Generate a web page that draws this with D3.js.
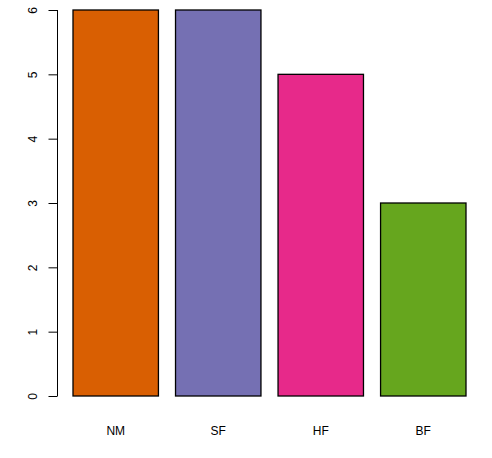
<!DOCTYPE html>
<head>
<meta charset="UTF-8">
<script src="https://d3js.org/d3.v7.min.js"></script>
<style>
  body { margin: 0; background: #fff; }
  text { font-family: "Liberation Sans", Arial, sans-serif; }
</style>
</head>
<body>
<div id="chart"></div>
<script>

// data
var groups = ["NM", "SF", "HF", "BF"];
var counts = [6, 6, 5, 3];
var colors = ["#D95F02", "#7570B3", "#E7298A", "#66A61E"];
var yTicks = [0, 1, 2, 3, 4, 5, 6];

var width = 492, height = 458;

var svg = d3.select("#chart")
  .append("svg")
    .attr("width", width)
    .attr("height", height);

// scales
var x = d3.scaleBand()
  .domain(groups)
  .range([73, 466])
  .paddingInner(0.2 / 1.2)
  .paddingOuter(0);

var y = d3.scaleLinear()
  .domain([0, 6])
  .range([396, 10]);

// bars
svg.selectAll(".bar")
  .data(groups)
  .enter()
  .append("rect")
    .attr("class", "bar")
    .attr("x", function(d) { return x(d); })
    .attr("y", function(d, i) { return y(counts[i]); })
    .attr("width", x.bandwidth())
    .attr("height", function(d, i) { return y(0) - y(counts[i]); })
    .style("fill", function(d, i) { return colors[i]; })
    .style("stroke", "#000")
    .style("stroke-width", 1.3);

// y axis, R style
var yAxis = svg.append("g")
  .attr("transform", "translate(57.5,0)")
  .call(d3.axisLeft(y).tickValues(yTicks).tickSize(9).tickFormat(d3.format("d")));
yAxis.select(".domain")
  .attr("d", "M0," + y(0) + "V" + y(6))
  .style("stroke-width", 1);
yAxis.selectAll(".tick line").style("stroke-width", 1);
yAxis.selectAll(".tick text")
  .attr("x", null)
  .attr("dy", null)
  .attr("transform", "translate(-21,0) rotate(-90)")
  .attr("text-anchor", "middle")
  .style("font-size", "12px")
  .style("font-family", "Liberation Sans, Arial, sans-serif");

// group labels
svg.selectAll(".lab")
  .data(groups)
  .enter()
  .append("text")
    .attr("class", "lab")
    .attr("x", function(d) { return x(d) + x.bandwidth() / 2; })
    .attr("y", 435)
    .attr("text-anchor", "middle")
    .style("font-size", "12px")
    .text(function(d) { return d; });

</script>
</body>
